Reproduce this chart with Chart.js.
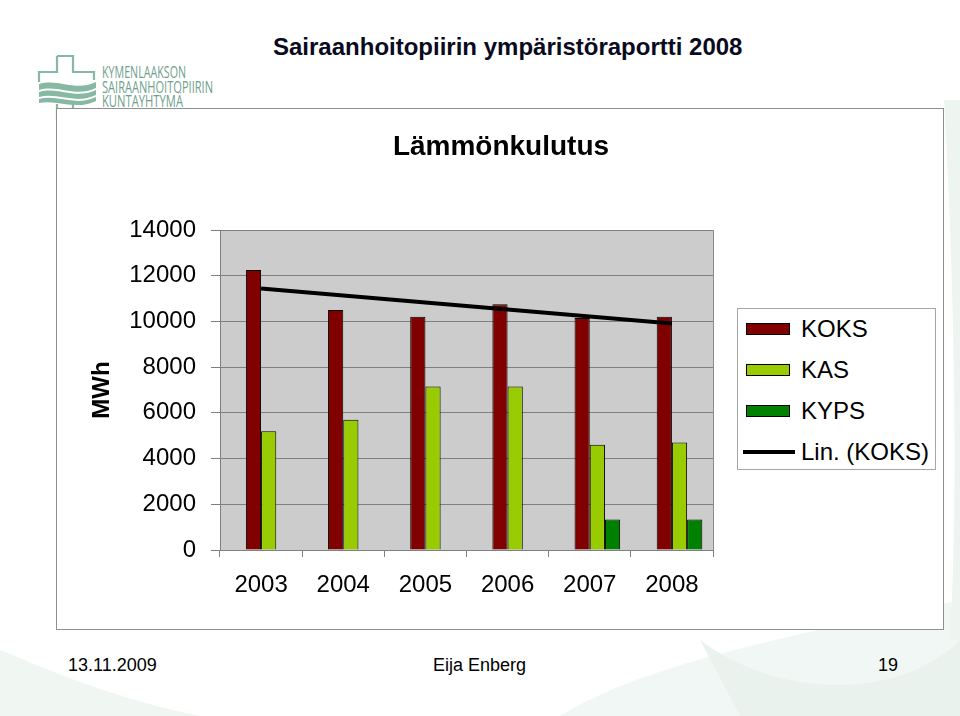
<!DOCTYPE html>
<html>
<head>
<meta charset="utf-8">
<script src="https://cdn.jsdelivr.net/npm/chart.js@4"></script>
<style>
  body { margin: 0; width: 960px; height: 716px; overflow: hidden; background: #fff; position: relative; font-family: 'Liberation Sans', Arial, sans-serif; }
  #bg { position: absolute; left: 0; top: 0; }
  #header { position: absolute; left: 273px; top: 33px; font-size: 24px; font-weight: bold; color: #0a0a1e; white-space: nowrap; }
  #chartBox { position: absolute; left: 56px; top: 108px; width: 888px; height: 522px; box-sizing: border-box; border: 1px solid #8f8f8f; background: #fff; }
  #chartBox canvas { position: absolute; left: 0; top: 0; }
  #chartTitle { position: absolute; left: 0; width: 888px; top: 21px; text-align: center; font-size: 28px; font-weight: bold; color: #000; }
  #legend { position: absolute; left: 737px; top: 308px; width: 199px; height: 162px; box-sizing: border-box; border: 1px solid #a6a6a6; background: #fff; }
  .item { position: absolute; left: 0; height: 30px; font-size: 24px; line-height: 30px; color: #000; white-space: nowrap; }
  .item .sw { position: absolute; left: 8px; top: 9px; width: 44px; height: 12px; box-sizing: border-box; border: 1px solid #000; }
  .item .ln { position: absolute; left: 5px; top: 13px; width: 52px; height: 4px; background: #000; }
  .item span.t { position: absolute; left: 63px; top: 0; }
  .foot { position: absolute; top: 655px; font-size: 18px; color: #000; }
</style>
</head>
<body>
<svg id="bg" width="960" height="716">
  <path d="M700 640 C 780 700, 900 700, 960 640 L 960 716 L 740 716 Z" fill="#dcebe2" opacity="0.6"/>
  <path d="M560 716 C 650 660, 820 630, 960 600 L 960 716 Z" fill="#e8f2ec" opacity="0.6"/>
  <path d="M0 650 C 60 675, 120 700, 200 716 L 0 716 Z" fill="#e6f0ea" opacity="0.6"/>
  <path d="M944 100 C 955 300, 958 500, 950 640 L 960 640 L 960 100 Z" fill="#eef5f1"/>
  <g fill="none" stroke="#86b8a3" stroke-width="2.2">
    <path d="M57 56 L73 56 L73 72 L94 72 L94 80"/>
    <path d="M57 56 L57 72 L39 72 L39 82"/>
    <path d="M57 104 L57 119 L73 119 L73 104"/>
  </g>
  <g fill="#86b8a3">
    <path d="M39 84 C 58 78, 75 92, 96 82 L 96 88 C 75 98, 58 84, 39 90 Z"/>
    <path d="M39 92 C 58 86, 75 100, 96 90 L 96 95 C 75 105, 58 92, 39 97 Z"/>
    <path d="M39 99 C 58 94, 75 107, 96 97 L 96 101 C 75 111, 58 99, 39 103 Z"/>
  </g>
  <g fill="#6f9f8e" font-family="'Open Sans', 'Noto Sans', sans-serif" font-size="15.5">
    <text x="102" y="78" textLength="84" lengthAdjust="spacingAndGlyphs">KYMENLAAKSON</text>
    <text x="102" y="93" textLength="111" lengthAdjust="spacingAndGlyphs">SAIRAANHOITOPIIRIN</text>
    <text x="102" y="107" textLength="81" lengthAdjust="spacingAndGlyphs">KUNTAYHTYMÄ</text>
  </g>
</svg>
<div id="header">Sairaanhoitopiirin ympäristöraportti 2008</div>
<div id="chartBox"><canvas id="heatChart" width="888" height="522"></canvas><div id="chartTitle">Lämmönkulutus</div></div>
<div id="legend"></div>
<div class="foot" style="left:68px">13.11.2009</div>
<div class="foot" style="left:433px">Eija Enberg</div>
<div class="foot" style="left:878px">19</div>

<script>
// ---- data (MWh) ----
const years = ['2003', '2004', '2005', '2006', '2007', '2008'];
const koks = [12250, 10500, 10200, 10750, 10150, 10200];
const kas = [5200, 5700, 7150, 7150, 4600, 4700];
const kyps = [null, null, null, null, 1330, 1330];

const seriesNames = ['KOKS', 'KAS', 'KYPS', 'Lin. (KOKS)'];
const seriesColors = ['#800000', '#99cc00', '#008000', '#000000'];

// linear trend of KOKS (Excel "Lin." trendline)
function linearTrend(values) {
    const n = values.length;
    const mx = (n - 1) / 2;
    const my = values.reduce((a, b) => a + b, 0) / n;
    let sxy = 0, sxx = 0;
    values.forEach((v, i) => { sxy += (i - mx) * (v - my); sxx += (i - mx) * (i - mx); });
    const k = sxy / sxx;
    return values.map((v, i) => my + k * (i - mx));
}
const koksTrend = linearTrend(koks);

const FONT = "'Liberation Sans', Arial, sans-serif";

// grey plot area + right border
const plotArea = {
    id: 'plotArea',
    beforeDraw(chart) {
        const { ctx, chartArea: a } = chart;
        ctx.save();
        ctx.fillStyle = '#cccccc';
        ctx.fillRect(a.left, a.top, a.right - a.left, a.bottom - a.top);
        ctx.restore();
    },
    beforeDatasetsDraw(chart) {
        const { ctx, chartArea: a } = chart;
        ctx.save();
        ctx.strokeStyle = '#8c8c8c';
        ctx.lineWidth = 1;
        ctx.beginPath();
        ctx.moveTo(a.right + 0.5, a.top);
        ctx.lineTo(a.right + 0.5, a.bottom);
        ctx.stroke();
        ctx.restore();
    }
};

const ctx = document.getElementById('heatChart').getContext('2d');
const chart = new Chart(ctx, {
    type: 'bar',
    data: {
        labels: years,
        datasets: [
            // empty slot, Excel leaves room before the first series
            { label: '', data: years.map(() => null), backgroundColor: 'transparent', borderWidth: 0 },
            { label: seriesNames[0], data: koks, backgroundColor: seriesColors[0], borderColor: '#000', borderWidth: 1 },
            { label: seriesNames[1], data: kas, backgroundColor: seriesColors[1], borderColor: '#000', borderWidth: 1 },
            { label: seriesNames[2], data: kyps, backgroundColor: seriesColors[2], borderColor: '#000', borderWidth: 1 },
            {
                type: 'line', label: seriesNames[3], data: koksTrend,
                borderColor: seriesColors[3], borderWidth: 4, pointRadius: 0,
                fill: false, tension: 0, order: -1
            }
        ]
    },
    options: {
        responsive: false,
        animation: false,
        layout: { padding: { left: 0, right: 232, top: 121, bottom: 0 } },
        datasets: {
            bar: { categoryPercentage: 0.74, barPercentage: 1.0 }
        },
        plugins: {
            legend: { display: false },
            tooltip: { enabled: false },
            title: { display: false }
        },
        scales: {
            x: {
                afterFit(scale) { scale.height = 81; },
                grid: { drawOnChartArea: false, drawTicks: true, tickLength: 7, color: '#808080' },
                border: { display: true, color: '#808080' },
                ticks: { color: '#000', font: { family: FONT, size: 24 }, padding: 14, maxRotation: 0 }
            },
            y: {
                min: 0,
                max: 14000,
                afterFit(scale) { scale.width = 163; },
                grid: { color: '#808080', tickLength: 9 },
                border: { display: true, color: '#808080' },
                ticks: {
                    stepSize: 2000, color: '#000', font: { family: FONT, size: 24 }, padding: 15,
                    callback: v => String(v)
                },
                title: {
                    display: true, text: 'MWh', color: '#000',
                    font: { family: FONT, size: 24, weight: 'bold' },
                    padding: { top: 31, bottom: 0 }
                }
            }
        }
    },
    plugins: [plotArea]
});

// legend box
const legend = document.getElementById('legend');
seriesNames.forEach((name, i) => {
    const row = document.createElement('div');
    row.className = 'item';
    row.style.top = (5 + i * 41) + 'px';
    row.style.width = '197px';
    const mark = document.createElement('div');
    if (i === 3) {
        mark.className = 'ln';
    } else {
        mark.className = 'sw';
        mark.style.background = seriesColors[i];
    }
    const txt = document.createElement('span');
    txt.className = 't';
    txt.textContent = name;
    row.appendChild(mark);
    row.appendChild(txt);
    legend.appendChild(row);
});
</script>
</body>
</html>
